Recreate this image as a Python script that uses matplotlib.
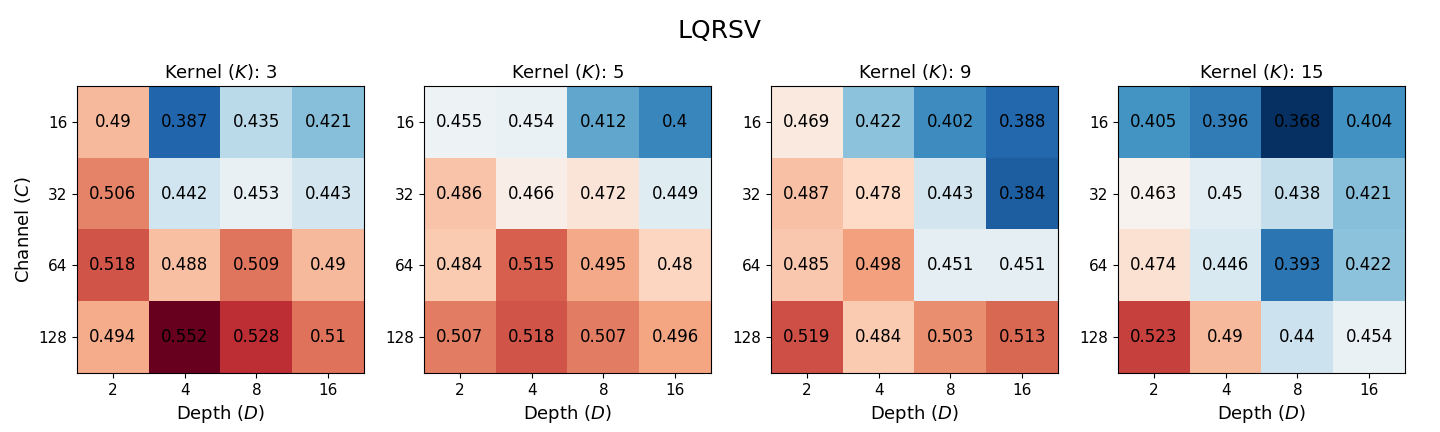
import matplotlib
matplotlib.use('Agg')
import matplotlib.pyplot as plt
import numpy as np

# ── data ──────────────────────────────────────────────
kernels = [3, 5, 9, 15]
depths = [2, 4, 8, 16]
channels = [16, 32, 64, 128]

k3 = [[0.49, 0.387, 0.435, 0.421],
      [0.506, 0.442, 0.453, 0.443],
      [0.518, 0.488, 0.509, 0.49],
      [0.494, 0.552, 0.528, 0.51]]
k5 = [[0.455, 0.454, 0.412, 0.4],
      [0.486, 0.466, 0.472, 0.449],
      [0.484, 0.515, 0.495, 0.48],
      [0.507, 0.518, 0.507, 0.496]]
k9 = [[0.469, 0.422, 0.402, 0.388],
      [0.487, 0.478, 0.443, 0.384],
      [0.485, 0.498, 0.451, 0.451],
      [0.519, 0.484, 0.503, 0.513]]
k15 = [[0.405, 0.396, 0.368, 0.404],
       [0.463, 0.45, 0.438, 0.421],
       [0.474, 0.446, 0.393, 0.422],
       [0.523, 0.49, 0.44, 0.454]]

grids = [k3, k5, k9, k15]

vmin = min(np.min(g) for g in grids)
vmax = max(np.max(g) for g in grids)

fig = plt.figure(figsize=(14.4, 4.32), dpi=100)
fig.suptitle('LQRSV', fontsize=18, y=0.955)

lefts = [77, 424, 771, 1118]
for i, (k, g) in enumerate(zip(kernels, grids)):
    ax = fig.add_axes([lefts[i] / 1440, 59 / 432, 287 / 1440, 287 / 432])
    data = np.array(g)
    ax.imshow(data, cmap='RdBu_r', vmin=vmin, vmax=vmax, aspect='auto')
    for r in range(len(channels)):
        for c in range(len(depths)):
            ax.text(c, r, f'{data[r, c]:g}', ha='center', va='center',
                    fontsize=12, color='black')
    ax.set_xticks(range(len(depths)))
    ax.set_xticklabels(depths, fontsize=11)
    ax.set_yticks(range(len(channels)))
    ax.set_yticklabels(channels, fontsize=11)
    ax.set_title(f'Kernel ($K$): {k}', fontsize=13)
    ax.set_xlabel('Depth ($D$)', fontsize=13)
    if i == 0:
        ax.set_ylabel('Channel ($C$)', fontsize=13)

fig.savefig('out.png', dpi=100)
